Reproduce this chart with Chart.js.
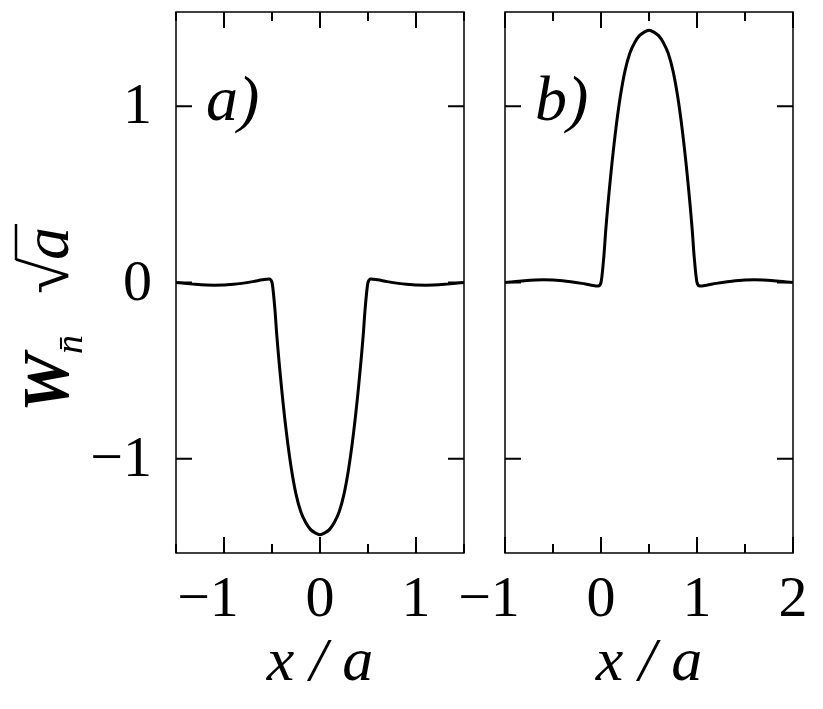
<!DOCTYPE html>
<html>
<head>
<meta charset="utf-8">
<script src="https://cdn.jsdelivr.net/npm/chart.js@4"></script>
<style>
  body { margin: 0; background: #fff; }
  canvas { position: absolute; left: 0; top: 0; }
</style>
</head>
<body>
<canvas id="chartA" width="823" height="709"></canvas>
<canvas id="chartB" width="823" height="709"></canvas>
<script>
// panel a) values
const xA = [-1.5, -1.3, -1.1, -0.9, -0.7, -0.6, -0.53, -0.5, -0.47, -0.45, -0.4, -0.35, -0.3, -0.25, -0.2, -0.15, -0.1, -0.05, 0,
            0.05, 0.1, 0.15, 0.2, 0.25, 0.3, 0.35, 0.4, 0.45, 0.47, 0.5, 0.53, 0.6, 0.7, 0.9, 1.1, 1.3, 1.5];
const yA = [0, -0.01, -0.015, -0.01, 0.005, 0.015, 0.02, 0.0, -0.15, -0.3, -0.6, -0.85, -1.05, -1.2, -1.3, -1.36, -1.4, -1.42, -1.43,
            -1.42, -1.4, -1.36, -1.3, -1.2, -1.05, -0.85, -0.6, -0.3, -0.15, 0.0, 0.02, 0.015, 0.005, -0.01, -0.015, -0.01, 0];
// panel b) values
const xB = [-1, -0.8, -0.6, -0.4, -0.2, -0.1, -0.03, 0, 0.03, 0.05, 0.1, 0.15, 0.2, 0.25, 0.3, 0.35, 0.4, 0.45, 0.5,
            0.55, 0.6, 0.65, 0.7, 0.75, 0.8, 0.85, 0.9, 0.95, 0.97, 1.0, 1.03, 1.1, 1.2, 1.4, 1.6, 1.8, 2.0];
const yB = [0, 0.01, 0.015, 0.01, -0.005, -0.015, -0.02, 0.0, 0.15, 0.3, 0.6, 0.85, 1.05, 1.2, 1.3, 1.36, 1.4, 1.42, 1.43,
            1.42, 1.4, 1.36, 1.3, 1.2, 1.05, 0.85, 0.6, 0.3, 0.15, 0.0, -0.02, -0.015, -0.005, 0.01, 0.015, 0.01, 0];
const yTicks = [-1, 0, 1];
const xTicksA = [-1, 0, 1];
const xTicksB = [-1, 0, 1, 2];

const SERIF = '"Liberation Serif", "DejaVu Serif", serif';

function frameTicks(majorX, showY, label) {
  return {
    id: 'frameTicks',
    afterDraw(chart) {
      const ctx = chart.ctx, a = chart.chartArea;
      const sx = chart.scales.x, sy = chart.scales.y;
      ctx.save();
      ctx.strokeStyle = '#000';
      ctx.lineWidth = 1.5;
      ctx.strokeRect(a.left, a.top, a.right - a.left, a.bottom - a.top);
      ctx.lineWidth = 2;
      // x ticks (major + half minor), bottom and top
      for (let v = Math.ceil(sx.min * 2) / 2; v <= sx.max + 1e-9; v += 0.5) {
        const px = sx.getPixelForValue(v);
        const len = Number.isInteger(v) ? 16 : 9;
        ctx.beginPath();
        ctx.moveTo(px, a.bottom); ctx.lineTo(px, a.bottom - len);
        ctx.moveTo(px, a.top); ctx.lineTo(px, a.top + len);
        ctx.stroke();
      }
      yTicks.forEach(v => {
        const py = sy.getPixelForValue(v);
        ctx.beginPath();
        ctx.moveTo(a.left, py); ctx.lineTo(a.left + 16, py);
        ctx.moveTo(a.right, py); ctx.lineTo(a.right - 16, py);
        ctx.stroke();
      });
      ctx.fillStyle = '#000';
      ctx.font = '58px ' + SERIF;
      ctx.textAlign = 'center';
      ctx.textBaseline = 'alphabetic';
      majorX.forEach(v => {
        const t = v < 0 ? '\u2212' + Math.abs(v) : String(v);
        const px = sx.getPixelForValue(v) - (v < 0 ? 16 : 0);
        ctx.fillText(t, px, 616);
      });
      if (showY) {
        ctx.textAlign = 'right';
        ctx.textBaseline = 'middle';
        yTicks.forEach(v => {
          const t = v < 0 ? '\u2212' + Math.abs(v) : String(v);
          ctx.fillText(t, 152, sy.getPixelForValue(v) + 2);
        });
        // y title
        ctx.save();
        ctx.translate(68, 290);
        ctx.rotate(-Math.PI / 2);
        ctx.textAlign = 'left';
        ctx.textBaseline = 'alphabetic';
        ctx.font = 'italic bold 66px ' + SERIF;
        ctx.fillText('W', -122, 0);
        ctx.font = 'italic 38px ' + SERIF;
        ctx.fillText('n\u0304', -64, 14);
        ctx.font = '66px ' + SERIF;
        ctx.fillText('\u221A', -4, 0);
        ctx.font = 'italic 66px ' + SERIF;
        ctx.fillText('a', 30, 0);
        ctx.lineWidth = 2.5;
        ctx.beginPath(); ctx.moveTo(30, -52); ctx.lineTo(66, -52); ctx.stroke();
        ctx.restore();
      }
      ctx.textAlign = 'center';
      ctx.textBaseline = 'alphabetic';
      ctx.font = 'italic 62px ' + SERIF;
      ctx.fillText('x / a', (a.left + a.right) / 2, 680);
      ctx.textAlign = 'left';
      ctx.font = 'italic 64px ' + SERIF;
      ctx.fillText(label, a.left + 30, 120);
      ctx.restore();
    }
  };
}

function makeChart(id, xs, ys, xmin, xmax, pad, majorX, showY, label) {
  new Chart(document.getElementById(id), {
    type: 'line',
    data: {
      datasets: [{
        data: xs.map((x, i) => ({ x, y: ys[i] })),
        borderColor: '#000',
        borderWidth: 3,
        pointRadius: 0,
        fill: false,
        cubicInterpolationMode: 'monotone'
      }]
    },
    options: {
      responsive: false,
      animation: false,
      layout: { padding: pad },
      plugins: { legend: { display: false }, tooltip: { enabled: false } },
      scales: {
        x: { type: 'linear', min: xmin, max: xmax, display: false },
        y: { type: 'linear', min: -1.534, max: 1.534, display: false }
      }
    },
    plugins: [frameTicks(majorX, showY, label)]
  });
}

makeChart('chartA', xA, yA, -1.5, 1.5, { left: 176, right: 359, top: 12, bottom: 156 }, xTicksA, true, 'a)');
makeChart('chartB', xB, yB, -1, 2, { left: 505, right: 30, top: 12, bottom: 156 }, xTicksB, false, 'b)');
</script>
</body>
</html>
